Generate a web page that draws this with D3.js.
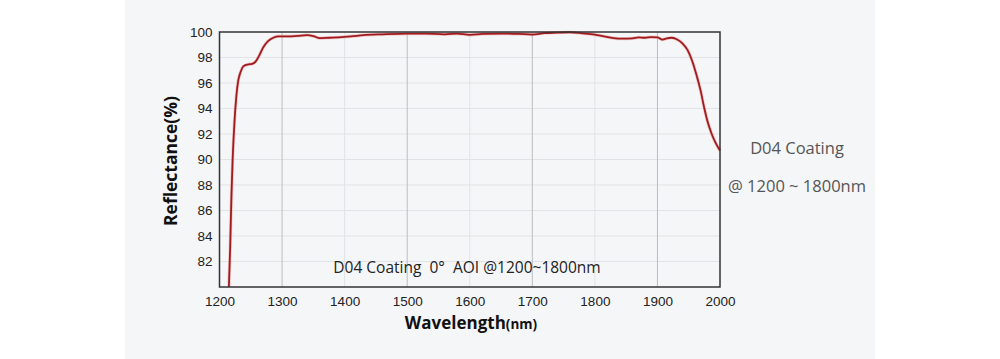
<!DOCTYPE html>
<html><head><meta charset="utf-8">
<script src="https://cdn.jsdelivr.net/npm/d3@7"></script>
<style>body{margin:0;background:#fff;}svg{display:block;}</style>
</head><body>
<svg id="c" width="1000" height="359"></svg>
<script>
const wavelengths = [1215,1217,1219,1221,1224,1227,1230,1234,1238,1245,1252,1258,1264,1270,1278,1286,1295,1310,1325,1340,1350,1360,1375,1390,1410,1430,1460,1500,1530,1560,1580,1600,1620,1650,1680,1700,1720,1740,1760,1780,1800,1815,1830,1845,1860,1870,1880,1890,1900,1908,1915,1922,1930,1940,1948,1955,1962,1969,1975,1980,1986,1993,2000];
const reflectance = [80,83,87,90,93,95,96.2,96.9,97.3,97.45,97.5,97.7,98.2,98.8,99.3,99.55,99.65,99.65,99.7,99.75,99.68,99.52,99.55,99.58,99.65,99.75,99.82,99.88,99.88,99.82,99.88,99.78,99.85,99.88,99.85,99.8,99.92,99.95,99.98,99.9,99.8,99.65,99.52,99.48,99.5,99.58,99.55,99.6,99.58,99.4,99.5,99.55,99.45,99.1,98.6,97.8,96.7,95.4,94.0,93.0,92.1,91.3,90.7];
const xTicks = [1200,1300,1400,1500,1600,1700,1800,1900,2000];
const yTicks = [82,84,86,88,90,92,94,96,98,100];
const majorGrid = [1300,1500,1700,1900];
const minorGrid = [1400,1600,1800];
const yLabel = "Reflectance(%)";
const xLabelMain = "Wavelength";
const xLabelUnit = "(nm)";
const innerNote = "D04 Coating  0°  AOI @1200~1800nm";
const sideText = ["D04 Coating", "@ 1200 ~ 1800nm"];

const svg = d3.select("#c");
svg.append("rect").attr("x",125).attr("y",0).attr("width",750).attr("height",359).attr("fill","#f5f6f8");

const L=219.5, R=720, T=32, B=287;
const x = d3.scaleLinear().domain([1200,2000]).range([L,R]);
const y = d3.scaleLinear().domain([80,100]).range([B,T]);

// grid
svg.append("g").selectAll("line").data(yTicks.filter(d=>d<100)).join("line")
  .attr("x1",L).attr("x2",R).attr("y1",d=>y(d)).attr("y2",d=>y(d))
  .attr("stroke","#e2e3e6").attr("stroke-width",1);
svg.append("g").selectAll("line").data(minorGrid).join("line")
  .attr("x1",d=>x(d)).attr("x2",d=>x(d)).attr("y1",T).attr("y2",B)
  .attr("stroke","#e2e3e6").attr("stroke-width",1);
svg.append("g").selectAll("line").data(majorGrid).join("line")
  .attr("x1",d=>x(d)).attr("x2",d=>x(d)).attr("y1",T).attr("y2",B)
  .attr("stroke","#bdbdc0").attr("stroke-width",1);

// curve
const line = d3.line().x((d,i)=>x(wavelengths[i])).y(d=>y(d)).curve(d3.curveMonotoneX);
svg.append("path").datum(reflectance).attr("d",line).attr("fill","none")
  .attr("stroke","#f0a0a0").attr("stroke-width",3.2).attr("opacity",0.6);
svg.append("path").datum(reflectance).attr("d",line).attr("fill","none")
  .attr("stroke","#9e1c1f").attr("stroke-width",1.8);

// frame
svg.append("rect").attr("x",L).attr("y",T).attr("width",R-L).attr("height",B-T)
  .attr("fill","none").attr("stroke","#333").attr("stroke-width",1.5);

// axes labels
const yAxis = d3.axisLeft(y).tickValues(yTicks).tickSize(0).tickPadding(7);
const gy = svg.append("g").attr("transform",`translate(${L},0)`).call(yAxis);
gy.select(".domain").remove();
gy.selectAll("text").attr("font-family","Liberation Sans, Arial, sans-serif").attr("font-size",13.5).attr("fill","#222");

const xAxis = d3.axisBottom(x).tickValues(xTicks).tickSize(0).tickPadding(9).tickFormat(d3.format("d"));
const gx = svg.append("g").attr("transform",`translate(0,${B})`).call(xAxis);
gx.select(".domain").remove();
gx.selectAll("text").attr("font-family","Liberation Sans, Arial, sans-serif").attr("font-size",13.5).attr("fill","#222");

svg.append("text").attr("transform","translate(177,161) rotate(-90)").attr("text-anchor","middle")
  .attr("font-family","Open Sans, Noto Sans, sans-serif").attr("font-weight","bold").attr("font-size",17.5).attr("fill","#111")
  .text(yLabel);

const xl = svg.append("text").attr("x",471).attr("y",329).attr("text-anchor","middle")
  .attr("font-family","Open Sans, Noto Sans, sans-serif").attr("font-weight","bold").attr("font-size",17).attr("fill","#111");
xl.append("tspan").text(xLabelMain);
xl.append("tspan").attr("font-size",13.5).text(xLabelUnit);

svg.append("text").attr("x",467).attr("y",273).attr("text-anchor","middle")
  .attr("font-family","Open Sans, Noto Sans, sans-serif").attr("font-size",15.5).attr("fill","#222")
  .attr("xml:space","preserve").style("white-space","pre").text(innerNote);

svg.append("g").selectAll("text").data(sideText).join("text")
  .attr("x",797).attr("y",(d,i)=>154+i*38).attr("text-anchor","middle")
  .attr("font-family","Open Sans, Noto Sans, sans-serif").attr("font-size",16.5).attr("fill","#555")
  .text(d=>d);
</script>
</body></html>
